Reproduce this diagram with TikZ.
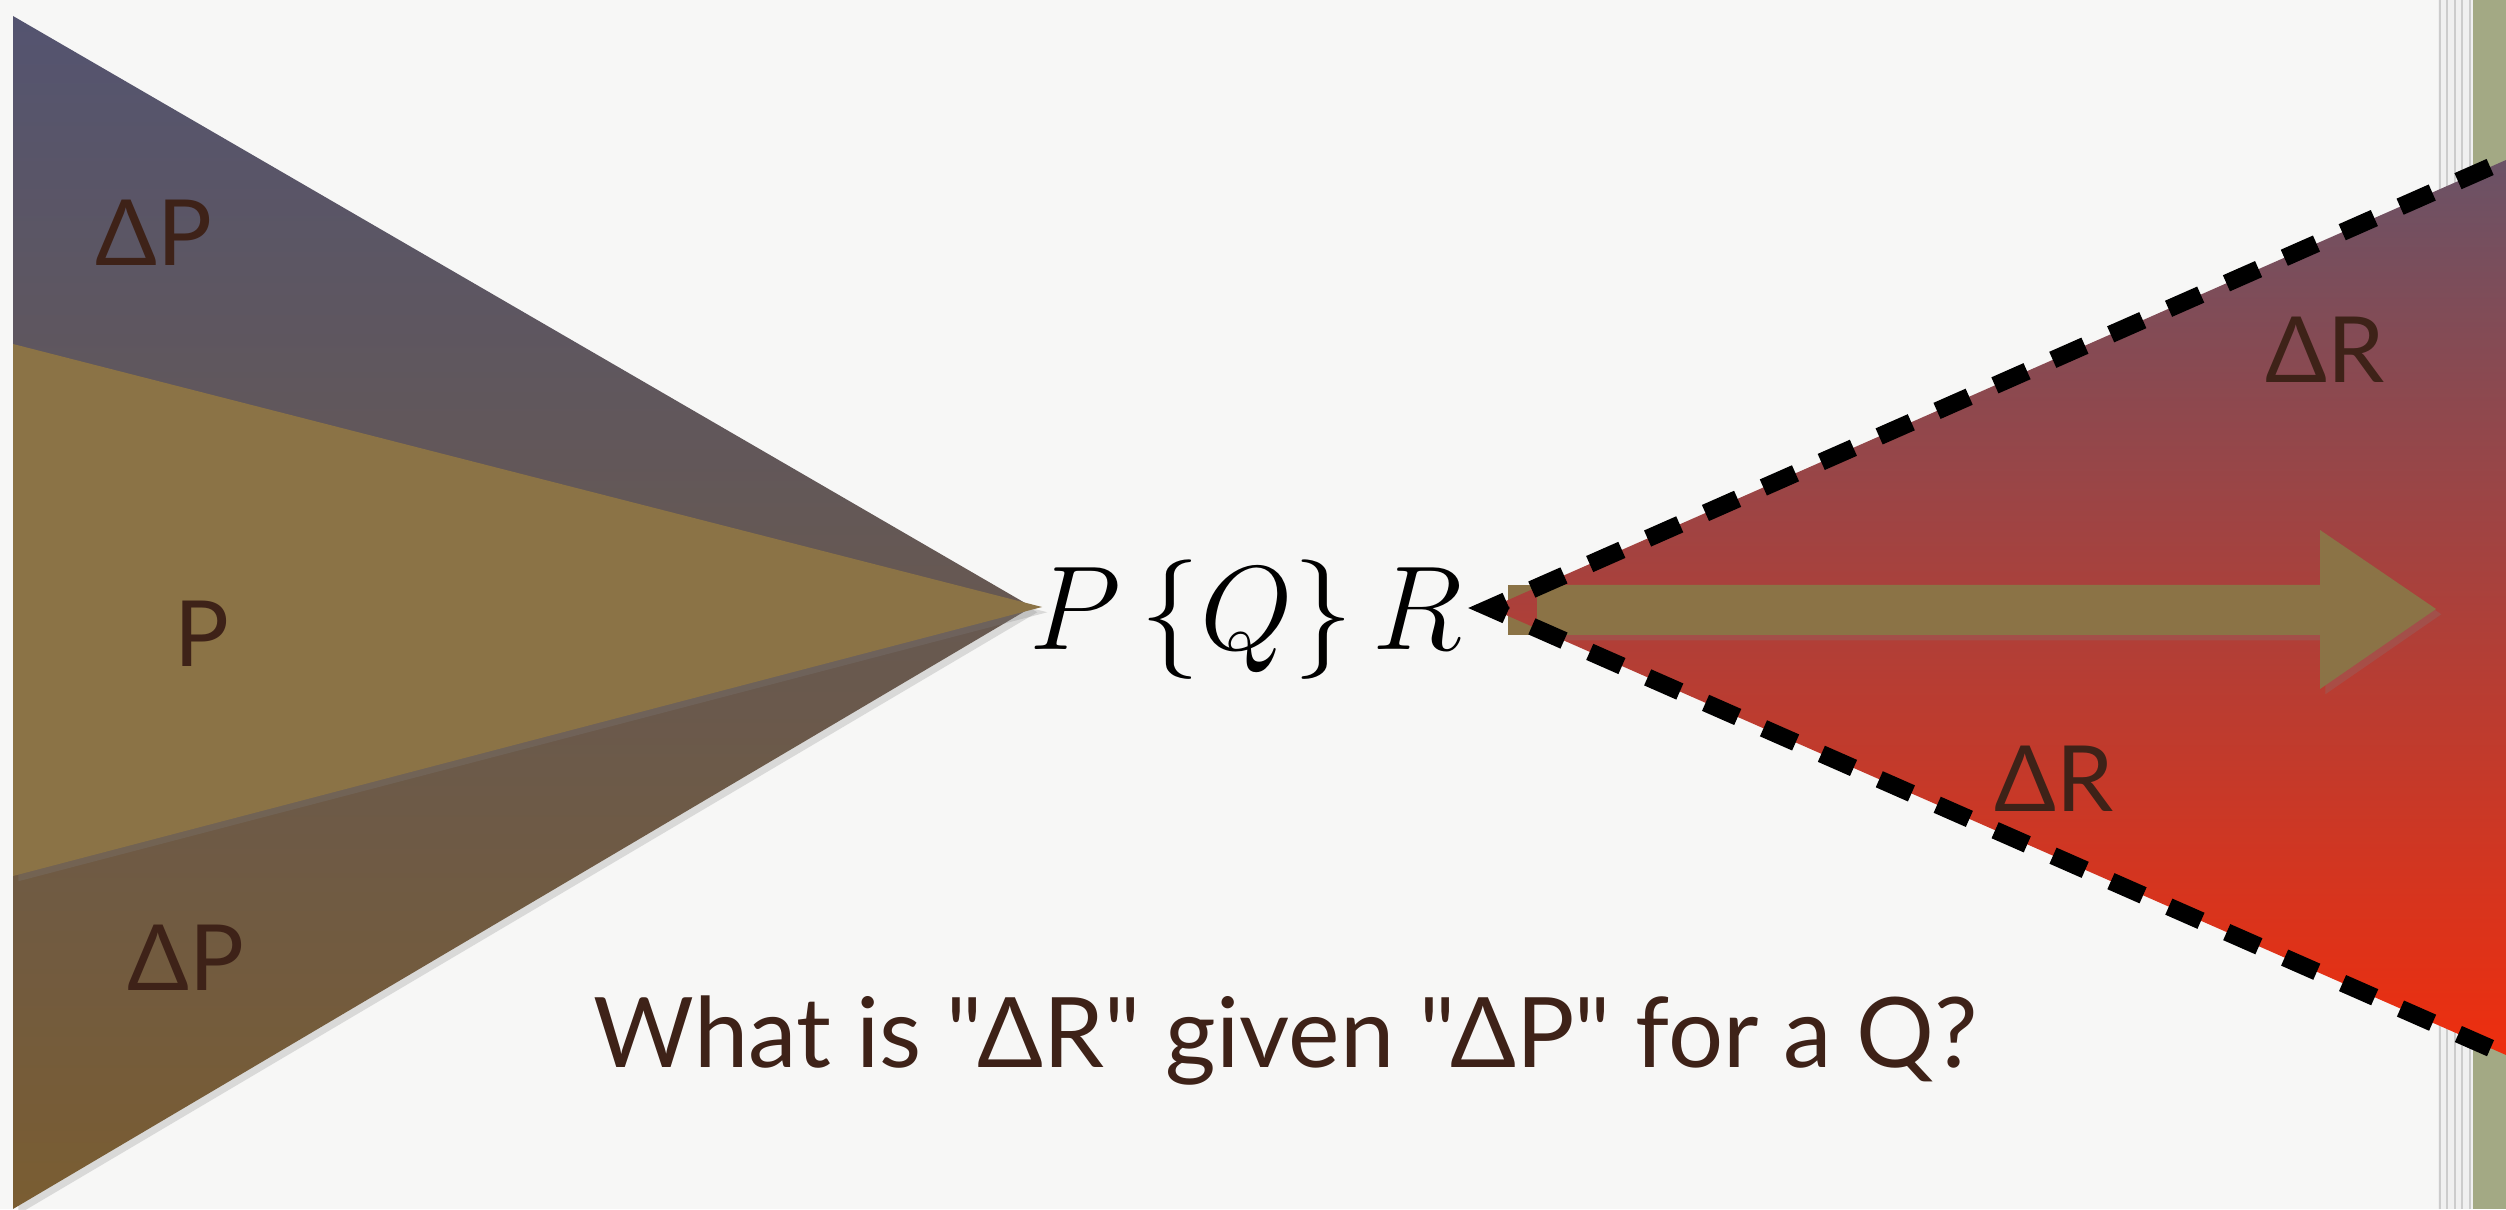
\documentclass[tikz,border=0pt]{standalone}
\usepackage{fontspec}
\setmainfont{Lato}[Ligatures=TeXOff]
\usetikzlibrary{shadows}
\definecolor{paperwhite}{RGB}{247,247,246}
\definecolor{fanslate}{RGB}{84,84,112}
\definecolor{fanbrown}{RGB}{122,93,50}
\definecolor{wedgetan}{RGB}{139,115,70}
\definecolor{inkbrown}{RGB}{62,34,24}
\definecolor{deltamauve}{RGB}{106,82,102}
\definecolor{deltamid}{RGB}{172,62,56}
\definecolor{deltared}{RGB}{238,46,14}
\definecolor{burlapgreen}{RGB}{163,169,132}

\begin{document}
\begin{tikzpicture}[x=1cm,y=1cm]
  \tikzset{
    papyrus/.style={font=\fontsize{26}{30}\selectfont,text=inkbrown,inner sep=0pt},
    softshadow/.style={drop shadow={opacity=.25,shadow xshift=1.5pt,shadow yshift=-1.5pt}},
    fandash/.style={line width=5pt,dash pattern=on 10pt off 8pt,dash phase=13.06pt,line join=miter}
  }
  % paper and page edge
  \fill[paperwhite] (0,0) rectangle (25.06,12.09);
  \useasboundingbox (0,0) rectangle (25.06,12.09);
  \fill[gray!12] (24.38,0) rectangle (24.73,12.09);
  \foreach \x in {24.40,24.47,24.55,24.62,24.70}
    \draw[gray!40,line width=.4pt] (\x,0) -- (\x,12.09);
  \fill[burlapgreen] (24.73,0) rectangle (25.06,12.09);

  % left fan
  \coordinate (lapex) at (10.32,6.02);
  \shade[top color=fanslate,bottom color=fanbrown,softshadow]
    (0.13,11.93) -- (lapex) -- (0.13,0) -- cycle;
  \fill[wedgetan,softshadow] (0.13,8.65) -- (10.42,6.02) -- (0.13,3.33) -- cycle;
  \node[papyrus] (dpUpper) at (1.54,9.76) {ΔP};
  \node[papyrus] (pMid) at (2.02,5.75) {P};
  \node[papyrus] (dpLower) at (1.86,2.51) {ΔP};

  % triple
  \node[anchor=base,font=\fontsize{20.74}{24}\selectfont,inner sep=0pt] (hoare) at (12.46,5.60)
    {\scalebox{1.64}{$P\,\{Q\}\,R$}};

  % right fan
  \coordinate (rapex) at (14.90,6.01);
  \coordinate (rtop) at (25.06,10.49);
  \coordinate (rbot) at (25.06,1.54);
  \fill[wedgetan] (15.08,5.74) rectangle (15.40,6.24);
  \shade[top color=deltamauve,middle color=deltamid,bottom color=deltared]
    (rtop) -- (rapex) -- (rbot) -- cycle;
  \fill[wedgetan,softshadow] (15.37,6.24) -- (23.20,6.24) -- (23.20,6.79) -- (24.36,6.00)
    -- (23.20,5.20) -- (23.20,5.74) -- (15.37,5.74) -- cycle;
  \draw[fandash] (rtop) -- (rapex) -- (rbot);
  \node[papyrus] (drUpper) at (23.25,8.59) {ΔR};
  \node[papyrus] (drLower) at (20.54,4.30) {ΔR};

  \node[papyrus,font=\fontsize{27.7}{32}\selectfont,anchor=base] (question) at (12.86,1.42)
    {What is "ΔR" given "ΔP" for a Q?};
\end{tikzpicture}
\end{document}
